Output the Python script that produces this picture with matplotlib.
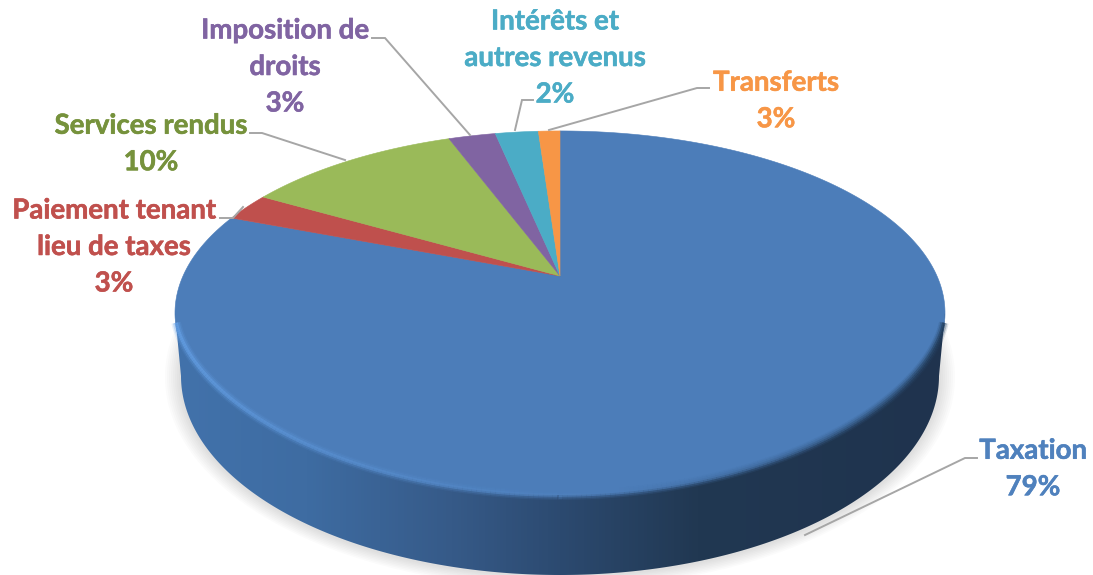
import numpy as np
import matplotlib
matplotlib.use('Agg')
import matplotlib.pyplot as plt
import matplotlib.patheffects as pe
from matplotlib.patches import Polygon
from matplotlib.collections import LineCollection
from matplotlib.colors import LinearSegmentedColormap, to_rgb

# --- DATA ---
categories = ['Taxation', 'Paiement tenant\nlieu de taxes', 'Services rendus',
              'Imposition de\ndroits', 'Intérêts et\nautres revenus', 'Transferts']
percent_labels = ['79%', '3%', '10%', '3%', '2%', '3%']
# slice sizes as measured on the drawing (they differ a bit from the printed labels)
shares = [80.8, 2.5, 11.0, 2.4, 2.2, 1.1]
colors = ['#4c7db9', '#bf504d', '#9aba59', '#8064a2', '#4bacc6', '#f79646']
text_colors = ['#4f81bd', '#c0504d', '#76923c', '#8064a2', '#4bacc6', '#f79646']

# --- LAYOUT (pixels) ---
W, H = 1093, 575
APEX = (560, 276)
R, B, K = 377, 174.5, 0.203   # tilt of the disc
TOP_C, TOP_R = (560, 313), (385, 182)
BOT_C, BOT_R = (560, 376), (379, 199)
label_pos = [(1033, 469), (114, 247), (151, 144), (285, 67), (555, 58), (776, 101)]
leaders = [
    [(977, 458), (965, 458), (805, 535)],
    [(220, 218), (233, 218), (243, 207)],
    [(250, 133), (262, 133), (345, 160)],
    [(372, 38), (385, 38), (470, 135)],
    [(533, 100), (522, 100), (515, 130)],
    [(709, 88), (697, 88), (549, 130)],
]


def tilt(theta):
    # unit circle -> picture, perspective view of the disc
    x, y = np.cos(theta), np.sin(theta)
    d = 1 + K * y
    return APEX[0] + R * x / d, APEX[1] - B * y / d


def ellipse(c, r, t):
    return c[0] + r[0] * np.cos(t), c[1] + r[1] * np.sin(t)


def front_edge(t):
    # front of the top face, a bit flatter than a true ellipse
    return TOP_C[0] + TOP_R[0] * np.cos(t), TOP_C[1] + TOP_R[1] * np.clip(np.sin(t), 0, 1) ** 1.15


fig = plt.figure(figsize=(W / 100, H / 100), dpi=100)
ax = fig.add_axes([0, 0, 1, 1])

# pie gives the angles, the wedges are then redrawn tilted
wedges, _ = ax.pie(shares, startangle=90, counterclock=False, colors=colors)
ax.set_aspect('auto')

# soft shadow under the body
t = np.linspace(0, 2 * np.pi, 300)
for grow in np.arange(16, 0, -2):
    xs, ys = ellipse((BOT_C[0], BOT_C[1] + 1), (BOT_R[0] + grow, BOT_R[1] + grow * 0.75), t)
    ax.add_patch(Polygon(np.c_[xs, ys], fc='#808080', ec='none', alpha=0.03, zorder=1))

# top face
for w, c in zip(wedges, colors):
    th = np.radians(np.linspace(w.theta1, w.theta2, 300))
    xs, ys = tilt(th)
    pts = np.r_[[APEX], np.c_[xs, ys]]
    w.set_visible(False)
    ax.add_patch(Polygon(pts, fc=c, ec=c, lw=0.4, zorder=2))

# side wall with gradient, over the front of the face
t_low = np.linspace(np.pi, 0, 300)
bx, by = ellipse(BOT_C, BOT_R, t_low)
tx, ty = front_edge(t_low[::-1])
wall = Polygon(np.r_[np.c_[bx, by], np.c_[tx, ty]], fc='none', ec='none', zorder=3)
ax.add_patch(wall)
wall_cmap = LinearSegmentedColormap.from_list('wall', [
    (0.0, '#4272ab'), (0.17, '#3e6ca2'), (0.36, '#365a88'), (0.5, '#2c4a70'),
    (0.68, '#213852'), (1.0, '#1f334e')])
im = ax.imshow(np.linspace(0, 1, 256)[None, :], extent=(175, 945, 575, 300),
               cmap=wall_cmap, aspect='auto', zorder=3.1)
im.set_clip_path(wall)

# bevel along the front rim, light on the left, dark on the right
t_rim = np.linspace(np.pi * 0.975, np.pi * 0.025, 240)
rx, ry = front_edge(t_rim)
pts = np.c_[rx, ry].reshape(-1, 1, 2)
segs = np.concatenate([pts[:-1], pts[1:]], axis=1)
light, mid, dark = map(np.array, map(to_rgb, ['#66a2e8', '#4c7db9', '#24405f']))
u = np.linspace(0, 1, len(segs))[:, None]
rim = np.where(u < 0.55, light + (mid - light) * (u / 0.55),
               mid + (dark - mid) * ((u - 0.55) / 0.45))
for lw, a in [(7, 0.15), (5, 0.3), (2.5, 0.7)]:
    ax.add_collection(LineCollection(segs, colors=rim, linewidths=lw, alpha=a,
                                     capstyle='butt', zorder=4))

# leader lines
for pts in leaders:
    xs, ys = zip(*pts)
    ax.plot(xs, ys, color='#a6a6a6', lw=1.4, zorder=5, solid_joinstyle='miter')

# labels
for name, pct, pos, col in zip(categories, percent_labels, label_pos, text_colors):
    ax.text(pos[0], pos[1], name + '\n' + pct, color=col, ha='center', va='center',
            family='Lato', fontweight='bold', fontsize=19.9, linespacing=1.5, zorder=6,
            path_effects=[pe.withStroke(linewidth=0.4, foreground=col)])

ax.set_xlim(0, W)
ax.set_ylim(H, 0)
ax.axis('off')
fig.savefig('out.png', dpi=100)
